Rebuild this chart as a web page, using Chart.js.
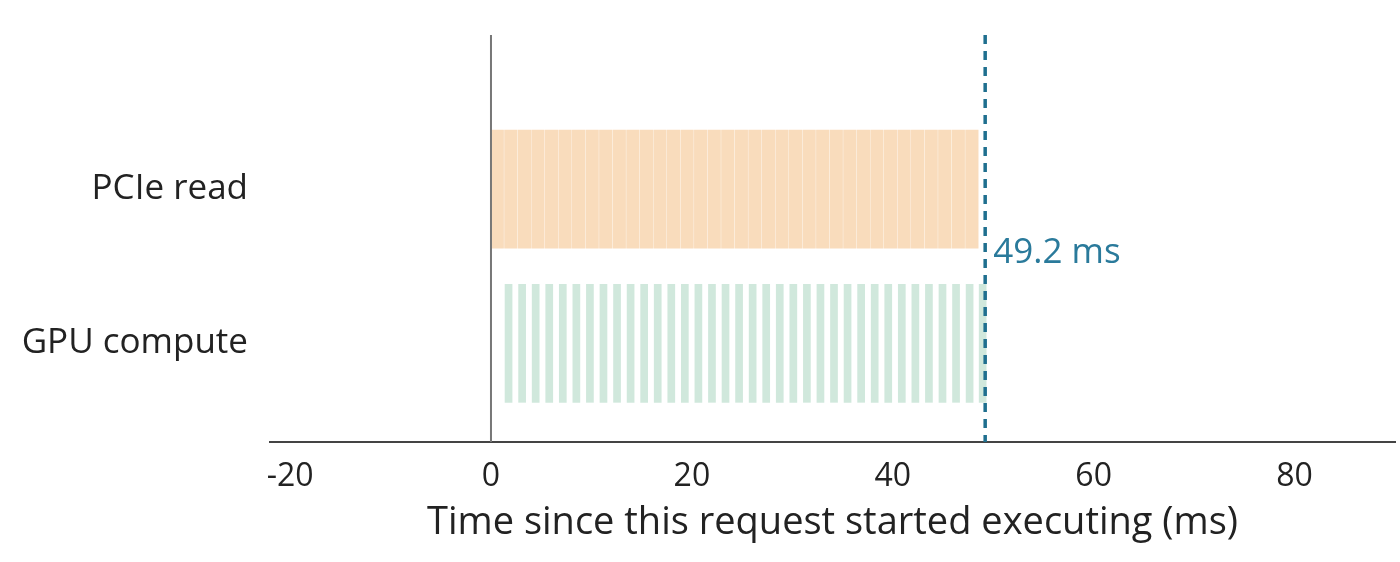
<!DOCTYPE html>
<html><head><meta charset="utf-8">
<script src="https://cdn.jsdelivr.net/npm/chart.js@4"></script>
<style>html,body{margin:0;padding:0;background:#fff}#w{width:1400px;height:562px}</style>
</head><body><div id="w"><canvas id="c"></canvas></div>
<script>
const categories = ['PCIe read', 'GPU compute'];
const pcieStarts = [0,1.35,2.7,4.05,5.4,6.75,8.1,9.45,10.8,12.15,13.5,14.85,16.2,17.55,18.9,20.25,21.6,22.95,24.3,25.65,27,28.35,29.7,31.05,32.4,33.75,35.1,36.45,37.8,39.15,40.5,41.85,43.2,44.55,45.9,47.25];
const pcieEnds   = [1.25,2.6,3.95,5.3,6.65,8,9.35,10.7,12.05,13.4,14.75,16.1,17.45,18.8,20.15,21.5,22.85,24.2,25.55,26.9,28.25,29.6,30.95,32.3,33.65,35,36.35,37.7,39.05,40.4,41.75,43.1,44.45,45.8,47.15,48.5];
const gpuStarts  = [1.4,2.75,4.1,5.45,6.8,8.15,9.5,10.85,12.2,13.55,14.9,16.25,17.6,18.95,20.3,21.65,23,24.35,25.7,27.05,28.4,29.75,31.1,32.45,33.8,35.15,36.5,37.85,39.2,40.55,41.9,43.25,44.6,45.95,47.3,48.6];
const gpuEnds    = [2.1,3.45,4.8,6.15,7.5,8.85,10.2,11.55,12.9,14.25,15.6,16.95,18.3,19.65,21,22.35,23.7,25.05,26.4,27.75,29.1,30.45,31.8,33.15,34.5,35.85,37.2,38.55,39.9,41.25,42.6,43.95,45.3,46.65,48,49.3];
const totalTime = 49.2;
const xTicks = [-20,0,20,40,60,80];

const F = "'Source Sans Pro','Open Sans','Noto Sans',sans-serif";
const overlay = {
  id:'overlay',
  afterDatasetsDraw(ch){
    const {ctx, chartArea:a, scales:{x}} = ch;
    ctx.save();
    const x0 = x.getPixelForValue(0);
    ctx.strokeStyle='#777'; ctx.lineWidth=2;
    ctx.beginPath(); ctx.moveTo(x0,a.top); ctx.lineTo(x0,a.bottom); ctx.stroke();
    const xt = x.getPixelForValue(totalTime);
    ctx.strokeStyle='#1f6f8f'; ctx.lineWidth=3.5; ctx.setLineDash([9,7]);
    ctx.beginPath(); ctx.moveTo(xt,a.top); ctx.lineTo(xt,a.bottom); ctx.stroke();
    ctx.setLineDash([]);
    ctx.fillStyle='#2a7a9b'; ctx.font='35px '+F; ctx.textBaseline='middle'; ctx.textAlign='left';
    ctx.fillText(totalTime+' ms', xt+8, 253);
    ctx.restore();
  }
};
new Chart(document.getElementById('c'), {
  type:'bar',
  data:{datasets:[
    {data:pcieStarts.map((s,i)=>({x:[s,pcieEnds[i]],y:0})), backgroundColor:'#f9dcbc', barThickness:118, grouped:false},
    {data:gpuStarts.map((s,i)=>({x:[s,gpuEnds[i]],y:1})), backgroundColor:'#d0e8dc', barThickness:118, grouped:false}
  ]},
  options:{
    indexAxis:'y', responsive:true, maintainAspectRatio:false, animation:false,
    layout:{padding:{top:0,right:5,bottom:12,left:0}},
    plugins:{legend:{display:false},tooltip:{enabled:false}},
    scales:{
      x:{type:'linear', min:-22, max:90,
        afterBuildTicks(s){ s.ticks = xTicks.map(v=>({value:v})); },
        grid:{display:false, drawTicks:true, tickLength:12, tickColor:'#444', tickWidth:2},
        border:{display:true,color:'#444',width:2},
        ticks:{color:'#222', font:{size:32,family:F}, padding:4},
        title:{display:true,text:'Time since this request started executing (ms)',color:'#222',font:{size:38,family:F},padding:{top:0}}
      },
      y:{type:'linear', min:-1, max:1.64, reverse:true, offset:false,
        afterBuildTicks(s){ s.ticks=[{value:0},{value:1}]; },
        afterFit(s){ s.width=270; },
        grid:{display:false}, border:{display:false},
        ticks:{color:'#222', font:{size:35,family:F}, padding:14, callback:v=>categories[v]}
      }
    }
  },
  plugins:[overlay]
});
</script></body></html>
